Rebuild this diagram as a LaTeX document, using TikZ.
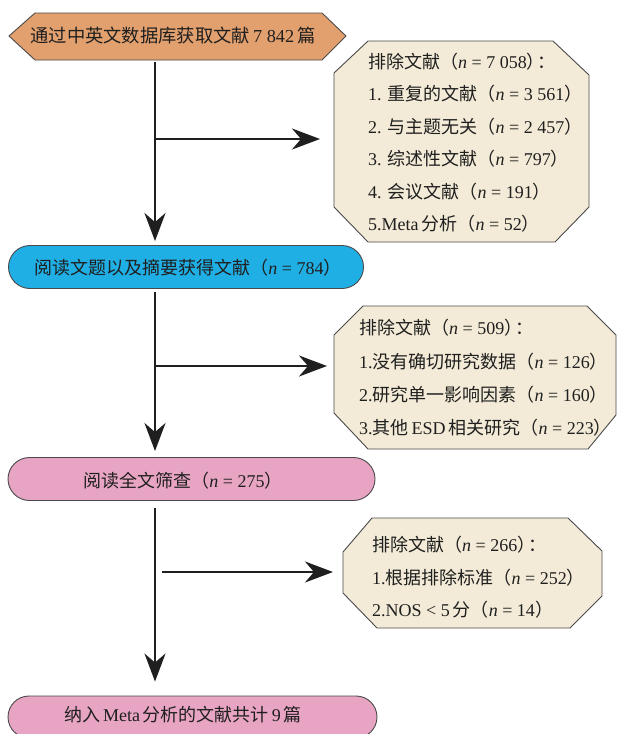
\documentclass[tikz,border=0pt]{standalone}
\usepackage{fontspec}
\setmainfont{Liberation Serif}
\newfontfamily\cjk{Noto Sans CJK SC}
\usetikzlibrary{arrows.meta,shapes.misc}
\newcommand{\zh}[1]{{\cjk #1}}
\newcommand{\nn}{\textit{n}}
\newcommand{\pc}{\zh{）}\kern-7pt\zh{：}}
\definecolor{orng}{HTML}{E2A06E}
\definecolor{cream}{HTML}{F3EBD7}
\definecolor{blu}{HTML}{20AFE4}
\definecolor{pnk}{HTML}{E8A5C3}
\definecolor{edge}{HTML}{4A4A4A}
\tikzset{
  shp/.style={draw=edge, line width=0.9pt},
  stad/.style={shp, rounded rectangle, minimum width=355pt, minimum height=43pt, inner sep=0pt},
  arr/.style={line width=2.4pt, draw=black!88, -{Stealth[length=28pt,width=21pt,inset=9pt]}},
  txt/.style={inner sep=0pt, font=\fontsize{18}{20}\selectfont, text=black!88},
  ltx/.style={txt, anchor=west},
}
\begin{document}
\begin{tikzpicture}[x=1pt,y=-1pt]
\useasboundingbox (0,0) rectangle (617,734);
% top hexagon
\draw[shp, fill=orng] (9,36) -- (35,13) -- (322,13) -- (346,36) -- (322,60) -- (35,60) -- cycle;
\node[txt, font=\fontsize{18.3}{20}\selectfont] (t0) at (173,36) {\zh{通过中英文数据库获取文献}\,7 842\,\zh{篇}};
\coordinate (h0) at (155,60);
% box 1
\draw[shp, fill=cream] (368,41) -- (553,41) -- (589,75) -- (589,207) -- (555,242) -- (368,242) -- (334,207) -- (334,73) -- cycle;
\coordinate (b1w) at (334,139);
\node[ltx] (e1a) at (368,62)  {\zh{排除文献（}\nn{} = 7 058\pc};
\node[ltx] (e1b) at (368,94)  {1. \zh{重复的文献（}\nn{} = 3 561\zh{）}};
\node[ltx] (e1c) at (368,127) {2. \zh{与主题无关（}\nn{} = 2 457\zh{）}};
\node[ltx] (e1d) at (368,159) {3. \zh{综述性文献（}\nn{} = 797\zh{）}};
\node[ltx] (e1e) at (368,192) {4. \zh{会议文献（}\nn{} = 191\zh{）}};
\node[ltx] (e1f) at (368,224) {5.Meta\,\zh{分析（}\nn{} = 52\zh{）}};
% blue stadium
\node[stad, fill=blu] (s1) at (186,267) {};
\node[txt] (t1) at (188,268) {\zh{阅读文题以及摘要获得文献（}\nn{} = 784\zh{）}};
% box 2
\draw[shp, fill=cream] (363,306) -- (587,306) -- (616,335) -- (616,415) -- (588,449) -- (368,449) -- (334,413) -- (334,335) -- cycle;
\coordinate (b2w) at (334,366);
\node[ltx] (e2a) at (359,328) {\zh{排除文献（}\nn{} = 509\pc};
\node[ltx] (e2b) at (359,362) {1.\zh{没有确切研究数据（}\nn{} = 126\zh{）}};
\node[ltx] (e2c) at (359,395) {2.\zh{研究单一影响因素（}\nn{} = 160\zh{）}};
\node[ltx] (e2d) at (359,428) {3.\zh{其他}\,ESD\,\zh{相关研究（}\nn{} = 223\zh{）}};
% pink 2
\node[stad, fill=pnk, minimum width=367pt] (s2) at (191.5,479) {};
\node[txt] (t2) at (183,481) {\zh{阅读全文筛查（}\nn{} = 275\zh{）}};
% box 3
\draw[shp, fill=cream] (372,518) -- (568,518) -- (602,551) -- (602,596) -- (570,628) -- (377,628) -- (343,593) -- (343,552) -- cycle;
\coordinate (b3w) at (343,572);
\node[ltx] (e3a) at (372,545) {\zh{排除文献（}\nn{} = 266\pc};
\node[ltx] (e3b) at (372,578) {1.\zh{根据排除标准（}\nn{} = 252\zh{）}};
\node[ltx] (e3c) at (372,610) {2.NOS < 5\,\zh{分（}\nn{} = 14\zh{）}};
% pink 3
\node[stad, fill=pnk, minimum width=369pt, minimum height=42pt] (s3) at (192.5,717) {};
\node[txt] (t3) at (183,715) {\zh{纳入}\,Meta\,\zh{分析的文献共计}\,9\,\zh{篇}};
% connectors
\coordinate (h1) at (155,288);
\coordinate (h2) at (155,500);
\coordinate (j1) at (155,139);
\coordinate (j2) at (155,366);
\coordinate (j3) at (162,572);
\draw[arr, shorten <=2pt, shorten >=4pt] (h0) -- (h0 |- s1.north);
\draw[arr, shorten >=14pt] (j1) -- (b1w);
\draw[arr, shorten <=4pt, shorten >=6pt] (h1) -- (h1 |- s2.north);
\draw[arr, shorten >=7pt] (j2) -- (b2w);
\draw[arr, shorten <=8pt, shorten >=14pt] (h2) -- (h2 |- s3.north);
\draw[arr, shorten >=10pt] (j3) -- (b3w);
\end{tikzpicture}
\end{document}
